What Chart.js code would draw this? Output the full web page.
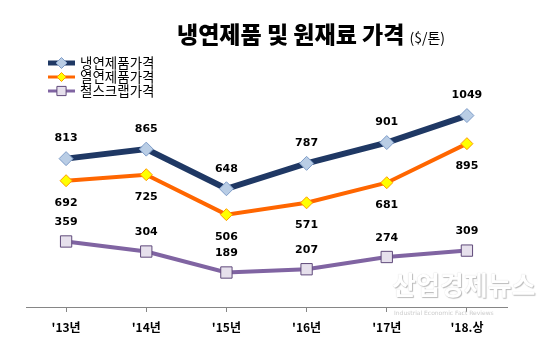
<!DOCTYPE html>
<html>
<head>
<meta charset="utf-8">
<script src="https://cdn.jsdelivr.net/npm/chart.js@4"></script>
<style>
  html, body { margin: 0; padding: 0; background: #fff; }
  #wrap { position: relative; width: 559px; height: 337px; }
  #title { position: absolute; left: 177px; top: 16px; white-space: nowrap;
    font-family: "Noto Sans CJK KR", sans-serif; color: #000; }
  #title .big { font-size: 23px; font-weight: 900; }
  #title .unit { font-size: 14px; font-weight: 400; margin-left: 5px; }
  #wm { position: absolute; left: 392px; top: 265px; white-space: nowrap;
    font-family: "Noto Sans CJK KR", sans-serif; font-weight: 700; font-size: 26px;
    color: #fff; text-shadow: 1px 1px 1px #bbb, 0 0 1px #d0d0d0; }
  #wm2 { position: absolute; left: 394px; top: 309px; white-space: nowrap;
    font-family: "DejaVu Sans", sans-serif; font-size: 6px; color: #ccc; }
</style>
</head>
<body>
<div id="wrap">
  <canvas id="chart" width="559" height="337"></canvas>
  <div id="title"><span class="big">냉연제품 및 원재료 가격</span><span class="unit">($/톤)</span></div>
  <div id="wm">산업경제뉴스</div>
  <div id="wm2">Industrial Economic Fact Reviews</div>
</div>
<script>
// 연도별 가격 ($/톤)
const years = ["'13년", "'14년", "'15년", "'16년", "'17년", "'18.상"];
const coldRolled = [813, 865, 648, 787, 901, 1049];
const hotRolled = [692, 725, 506, 571, 681, 895];
const scrap = [359, 304, 189, 207, 274, 309];

// 라벨 위치: 위(-) / 아래(+)
const labelOffset = [-20, 22, -19];

const legendAndLabels = {
  id: "legendAndLabels",
  afterDatasetsDraw(chart) {
    const ctx = chart.ctx;
    ctx.save();
    // 값 라벨
    ctx.font = "bold 11px 'DejaVu Sans'";
    ctx.fillStyle = "#000";
    ctx.textAlign = "center";
    ctx.textBaseline = "middle";
    chart.data.datasets.forEach((ds, i) => {
      chart.getDatasetMeta(i).data.forEach((pt, j) => {
        ctx.fillText(ds.data[j], pt.x, pt.y + labelOffset[i]);
      });
    });
    // 범례
    const rowY = [63, 77, 91];
    chart.data.datasets.forEach((ds, i) => {
      const y = rowY[i];
      const cx = 61.5;
      ctx.strokeStyle = ds.borderColor;
      ctx.lineWidth = ds.borderWidth - 1;
      ctx.beginPath();
      ctx.moveTo(48, y);
      ctx.lineTo(75, y);
      ctx.stroke();
      ctx.fillStyle = ds.pointBackgroundColor;
      ctx.strokeStyle = ds.pointBorderColor;
      ctx.lineWidth = 1;
      ctx.beginPath();
      const r = ds.pointRadius - 1.5;
      if (ds.pointStyle === "rectRot") {
        ctx.moveTo(cx - r, y); ctx.lineTo(cx, y - r);
        ctx.lineTo(cx + r, y); ctx.lineTo(cx, y + r); ctx.closePath();
      } else {
        const s = r * Math.SQRT1_2;
        ctx.rect(cx - s, y - s, 2 * s, 2 * s);
      }
      ctx.fill();
      ctx.stroke();
      ctx.fillStyle = "#000";
      ctx.textAlign = "left";
      ctx.font = "13.5px 'Noto Sans CJK KR'";
      ctx.fillText(ds.label, 80, y);
    });
    ctx.restore();
  }
};

new Chart(document.getElementById("chart"), {
  type: "line",
  data: {
    labels: years,
    datasets: [
      {
        label: "냉연제품가격",
        data: coldRolled,
        borderColor: "#1F3864",
        borderWidth: 6,
        pointStyle: "rectRot",
        pointRadius: 7,
        pointBackgroundColor: "#B9CDE5",
        pointBorderColor: "#7E9CC8",
        pointBorderWidth: 1
      },
      {
        label: "열연제품가격",
        data: hotRolled,
        borderColor: "#FF6600",
        borderWidth: 4,
        pointStyle: "rectRot",
        pointRadius: 6,
        pointBackgroundColor: "#FFFF00",
        pointBorderColor: "#FF9900",
        pointBorderWidth: 1
      },
      {
        label: "철스크랩가격",
        data: scrap,
        borderColor: "#8064A2",
        borderWidth: 4,
        pointStyle: "rect",
        pointRadius: 8,
        pointBackgroundColor: "#E6E0EC",
        pointBorderColor: "#5F497A",
        pointBorderWidth: 1
      }
    ]
  },
  options: {
    responsive: false,
    animation: false,
    layout: { padding: { top: 88, left: 26, right: 52, bottom: 2 } },
    plugins: {
      legend: { display: false },
      tooltip: { enabled: false }
    },
    scales: {
      x: {
        offset: true,
        afterFit(scale) { scale.height = 28; },
        grid: { drawOnChartArea: false, drawTicks: true, tickLength: 5, color: "#868686" },
        border: { color: "#868686", width: 1 },
        ticks: {
          padding: 8,
          color: "#000",
          font: { family: "'Noto Sans CJK KR'", weight: "bold", size: 12 }
        }
      },
      y: {
        display: false,
        min: 0,
        max: 1200
      }
    }
  },
  plugins: [legendAndLabels]
});
</script>
</body>
</html>
